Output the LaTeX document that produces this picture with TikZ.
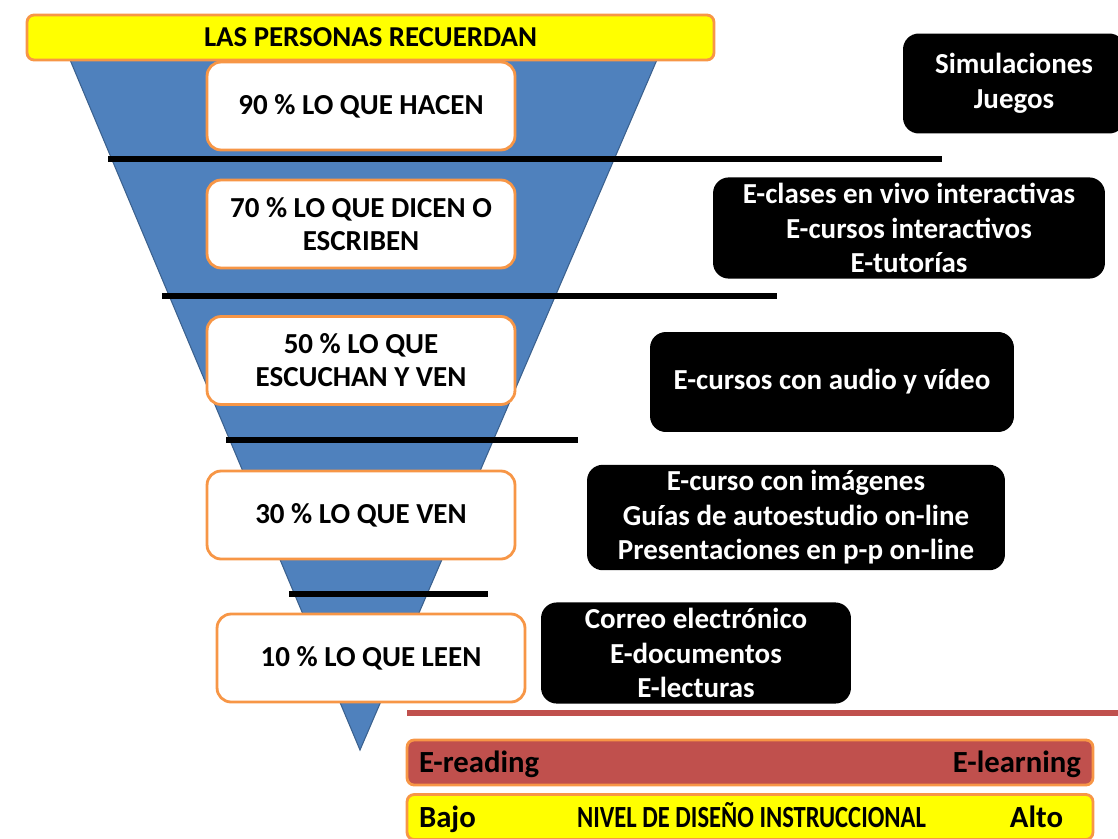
\documentclass[tikz,border=0pt]{standalone}
\usepackage{fontspec}
\setmainfont{Carlito}
\newfontfamily\narrowfont[FakeStretch=0.8]{Carlito}
\usepackage{tikz}
\usetikzlibrary{positioning}

\definecolor{funnelblue}{HTML}{4F81BD}
\definecolor{boxorange}{HTML}{F79646}
\definecolor{levelred}{HTML}{C0504D}
\definecolor{bannery}{HTML}{FFFF00}

\tikzset{
  banner/.style={draw=boxorange, line width=1.6pt, rounded corners=4pt, minimum height=0.9cm, font=\fontsize{16.4}{18}\selectfont\bfseries},
  pctbox/.style={draw=boxorange, fill=white, line width=1.6pt, rounded corners=8pt, minimum width=6.16cm, minimum height=1.76cm, align=center, font=\fontsize{16.5}{18.7}\selectfont\bfseries},
  mediabox/.style={fill=black, text=white, rounded corners=9pt, minimum height=2cm, align=center, font=\fontsize{16.5}{19.6}\selectfont\bfseries},
  divider/.style={line width=3.4pt},
  barlabel/.style={inner sep=0pt, text height=0.64em, text depth=0pt, yshift=-2.6pt, font=\fontsize{17.5}{18}\selectfont\bfseries}
}

\begin{document}
\begin{tikzpicture}[x=0.02cm, y=-0.02cm]
    \clip (0,0) rectangle (1118,838);

    % Funnel
    \filldraw[fill=funnelblue, draw=funnelblue!75!black, line width=0.6pt] (68,55) -- (659,55) -- (360,750) -- cycle;

    % Dividers
    \draw[divider] (108,159) -- (942,159);
    \draw[divider] (162,296) -- (777,296);
    \draw[divider] (226,440) -- (578,440);
    \draw[divider] (289,594) -- (488,594);

    % Title
    \node[banner, fill=bannery, minimum width=13.74cm] (title) at (370.5,37.5) {LAS PERSONAS RECUERDAN};

    % What people remember
    \node[pctbox] (p90) at (361,106) {90 \% LO QUE HACEN};
    \node[pctbox] (p70) at (361,224) {70 \% LO QUE DICEN O\\ESCRIBEN};
    \node[pctbox] (p50) at (361,360.5) {50 \% LO QUE\\ESCUCHAN Y VEN};
    \node[pctbox] (p30) at (361,515) {30 \% LO QUE VEN};
    \node[pctbox] (p10) at (371,658) {10 \% LO QUE LEEN};

    % Media
    \node[mediabox, minimum width=4.44cm] (m90) at (1014,83.5) {Simulaciones\\Juegos};
    \node[mediabox, minimum width=7.84cm] (m70) at (909,228) {E-clases en vivo interactivas\\E-cursos interactivos\\E-tutorías};
    \node[mediabox, minimum width=7.28cm] (m50) at (832,382) {E-cursos con audio y vídeo};
    \node[mediabox, minimum width=8.36cm] (m30) at (796,517.5) {E-curso con imágenes\\Guías de autoestudio on-line\\Presentaciones en p-p on-line};
    \node[mediabox, minimum width=6.2cm] (m10) at (696,653) {Correo electrónico\\E-documentos\\E-lecturas};

    % Level scale
    \draw[levelred, line width=3.4pt] (407,713) -- (1118,713);
    \node[banner, fill=levelred, minimum width=13.72cm] (tools) at (750,762.5) {};
    \node[barlabel, right=0.26cm of tools.west] (read) {E-reading};
    \node[barlabel, left=0.26cm of tools.east] (learn) {E-learning};
    \node[banner, fill=bannery, minimum width=13.72cm] (design) at (750,817) {};
    \node[barlabel, right=0.26cm of design.west] (low) {Bajo};
    \node[barlabel, font=\fontsize{17.5}{18}\narrowfont\bfseries] (level) at (751.5,817) {NIVEL DE DISEÑO INSTRUCCIONAL};
    \node[barlabel, left=0.62cm of design.east] (high) {Alto};
\end{tikzpicture}
\end{document}
